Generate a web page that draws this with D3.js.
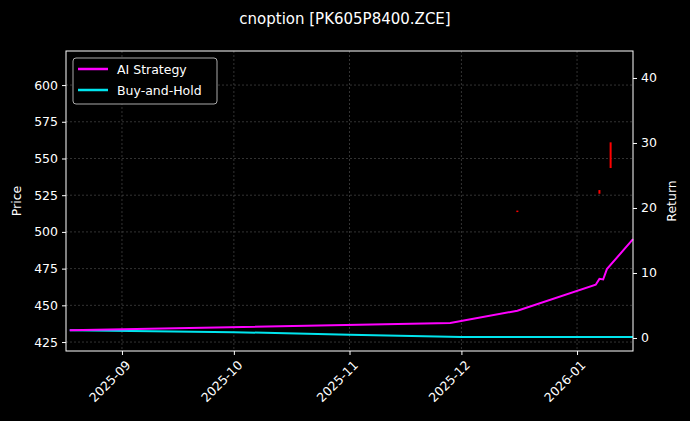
<!DOCTYPE html>
<html>
<head>
<meta charset="utf-8">
<script src="https://cdn.jsdelivr.net/npm/d3@7"></script>
<style>
  body { margin: 0; background: #000; }
  text { font-family: "DejaVu Sans", sans-serif; }
</style>
</head>
<body>
<svg id="chart" width="690" height="421"></svg>
<script>
// price wicks (date, low, high)
const priceDates = ["2025-12-16", "2026-01-07", "2026-01-10"];
const priceLow = [513.5, 526, 543.5];
const priceHigh = [514.5, 528.5, 561];

// strategy returns
const aiDates = ["2025-08-18", "2025-11-28", "2025-12-16", "2026-01-06", "2026-01-07", "2026-01-08", "2026-01-09", "2026-01-16"];
const aiReturn = [1.2, 2.3, 4.2, 8.2, 9.1, 9.0, 10.6, 15.2];
const bhDates = ["2025-08-18", "2025-10-01", "2025-11-01", "2025-12-01", "2026-01-16"];
const bhReturn = [1.2, 0.9, 0.5, 0.15, 0.15];

const priceTicks = [425, 450, 475, 500, 525, 550, 575, 600];
const returnTicks = [0, 10, 20, 30, 40];
const monthTicks = ["2025-09-01", "2025-10-01", "2025-11-01", "2025-12-01", "2026-01-01"];

const parse = d3.utcParse("%Y-%m-%d");
const svg = d3.select("#chart");
const m = { left: 66, right: 633, top: 51, bottom: 351 };

const x = d3.scaleUtc().domain([parse("2025-08-17"), parse("2026-01-16")]).range([m.left, m.right]);
const yP = d3.scaleLinear().domain([418.9, 623.2]).range([m.bottom, m.top]);
const yR = d3.scaleLinear().domain([-2.0, 44.15]).range([m.bottom, m.top]);

svg.append("rect").attr("width", 690).attr("height", 421).attr("fill", "#000");

// grid
const grid = svg.append("g").attr("stroke", "#555").attr("stroke-width", 0.6).attr("stroke-dasharray", "2,2");
grid.selectAll(".gx").data(monthTicks).enter().append("line")
  .attr("x1", d => x(parse(d))).attr("x2", d => x(parse(d)))
  .attr("y1", m.top).attr("y2", m.bottom);
grid.selectAll(".gy").data(priceTicks).enter().append("line")
  .attr("x1", m.left).attr("x2", m.right)
  .attr("y1", d => yP(d)).attr("y2", d => yP(d));

// price wicks
svg.selectAll(".wick").data(priceDates).enter().append("line")
  .attr("x1", d => x(parse(d))).attr("x2", d => x(parse(d)))
  .attr("y1", (d, i) => yP(priceLow[i])).attr("y2", (d, i) => yP(priceHigh[i]))
  .attr("stroke", "red").attr("stroke-width", 2);

const line = d3.line().x(d => x(d[0])).y(d => yR(d[1]));
svg.append("path").datum(bhDates.map((d, i) => [parse(d), bhReturn[i]]))
  .attr("d", line).attr("fill", "none").attr("stroke", "#00e5ee").attr("stroke-width", 2);
svg.append("path").datum(aiDates.map((d, i) => [parse(d), aiReturn[i]]))
  .attr("d", line).attr("fill", "none").attr("stroke", "#ff00ff").attr("stroke-width", 2);

// frame
svg.append("rect").attr("x", m.left).attr("y", m.top)
  .attr("width", m.right - m.left).attr("height", m.bottom - m.top)
  .attr("fill", "none").attr("stroke", "#fff").attr("stroke-width", 1);

// axes
function style(g) {
  g.select(".domain").remove();
  g.selectAll("line").attr("stroke", "#fff");
  g.selectAll("text").attr("fill", "#fff").attr("font-size", 12.5);
}
svg.append("g").attr("transform", `translate(${m.left},0)`)
  .call(d3.axisLeft(yP).tickValues(priceTicks).tickSize(4).tickPadding(4)).call(style);
svg.append("g").attr("transform", `translate(${m.right},0)`)
  .call(d3.axisRight(yR).tickValues(returnTicks).tickSize(4).tickPadding(4)).call(style);
const xa = svg.append("g").attr("transform", `translate(0,${m.bottom})`)
  .call(d3.axisBottom(x).tickValues(monthTicks.map(parse)).tickFormat(d3.utcFormat("%Y-%m")).tickSize(4))
  .call(style);
xa.selectAll("text").attr("text-anchor", "end").attr("dy", 0)
  .attr("transform", "translate(4,10) rotate(-45)");

// labels
svg.append("text").attr("x", 345).attr("y", 24).attr("text-anchor", "middle")
  .attr("fill", "#fff").attr("font-size", 15).text("cnoption [PK605P8400.ZCE]");
svg.append("text").attr("transform", "translate(21,201) rotate(-90)").attr("text-anchor", "middle")
  .attr("fill", "#fff").attr("font-size", 12.5).text("Price");
svg.append("text").attr("transform", "translate(676,201) rotate(-90)").attr("text-anchor", "middle")
  .attr("fill", "#fff").attr("font-size", 12.5).text("Return");

// legend
const lg = svg.append("g").attr("transform", "translate(73,58)");
lg.append("rect").attr("width", 144).attr("height", 46).attr("rx", 3)
  .attr("fill", "#000").attr("stroke", "#aaa");
const items = [["AI Strategy", "#ff00ff"], ["Buy-and-Hold", "#00e5ee"]];
items.forEach((it, i) => {
  lg.append("line").attr("x1", 5).attr("x2", 35).attr("y1", 11 + i * 21).attr("y2", 11 + i * 21)
    .attr("stroke", it[1]).attr("stroke-width", 2.5);
  lg.append("text").attr("x", 44).attr("y", 16 + i * 21).attr("fill", "#fff")
    .attr("font-size", 12.5).text(it[0]);
});
</script>
</body>
</html>
